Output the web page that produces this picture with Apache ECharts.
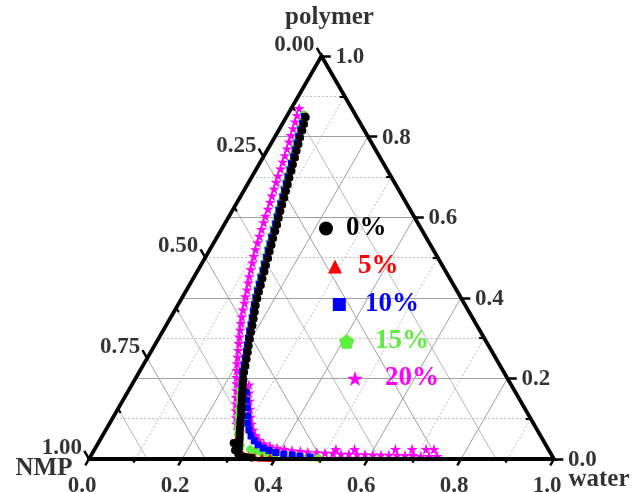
<!DOCTYPE html>
<html>
<head>
<meta charset="utf-8">
<script src="https://cdn.jsdelivr.net/npm/echarts@6/dist/echarts.min.js"></script>
<style>
  html, body { margin: 0; padding: 0; background: #ffffff; }
  #chart { width: 644px; height: 492px; }
</style>
</head>
<body>
<div id="chart"></div>
<script>
// Ternary phase diagram (NMP / water / polymer) with cloud-point curves.
// Every point is [water fraction, polymer fraction]; NMP = 1 - water - polymer.

const seriesNames = ['0%', '5%', '10%', '15%', '20%'];
const seriesColors = ['#000000', '#ff0000', '#0000ff', '#5cf03c', '#ff00ff'];

const binodal0 = [
  [0.042,0.848],[0.047,0.831],[0.051,0.815],[0.055,0.798],[0.060,0.781],[0.064,0.765],[0.069,0.748],
  [0.073,0.731],[0.078,0.715],[0.082,0.698],[0.087,0.681],[0.091,0.665],[0.096,0.648],[0.100,0.631],
  [0.104,0.615],[0.109,0.598],[0.114,0.581],[0.118,0.565],[0.122,0.548],[0.127,0.531],[0.131,0.515],
  [0.136,0.498],[0.140,0.481],[0.145,0.465],[0.149,0.448],[0.154,0.431],[0.158,0.415],[0.163,0.398],
  [0.168,0.381],[0.174,0.365],[0.180,0.348],[0.186,0.331],[0.191,0.315],[0.197,0.298],[0.203,0.281],
  [0.209,0.265],[0.215,0.248],[0.221,0.231],[0.226,0.215],[0.233,0.198],[0.236,0.190],[0.240,0.181],
  [0.244,0.173],[0.247,0.165],[0.251,0.156],[0.255,0.148],[0.259,0.139],[0.262,0.131],[0.266,0.123],
  [0.270,0.115],[0.274,0.106],[0.277,0.098],[0.280,0.091],[0.283,0.085],[0.287,0.075],[0.291,0.066],
  [0.295,0.058],[0.299,0.050],[0.302,0.043],[0.291,0.040],[0.305,0.036],[0.307,0.030],[0.310,0.024],
  [0.303,0.022],[0.313,0.018],[0.315,0.012],[0.322,0.007],[0.334,0.005],[0.347,0.004]
];

const binodal5 = [
  [0.039,0.852],[0.044,0.835],[0.048,0.819],[0.052,0.802],[0.057,0.785],[0.061,0.769],[0.066,0.752],
  [0.070,0.735],[0.075,0.719],[0.079,0.702],[0.084,0.685],[0.088,0.669],[0.093,0.652],[0.097,0.635],
  [0.101,0.619],[0.106,0.602],[0.111,0.585],[0.115,0.569],[0.119,0.552],[0.124,0.535],[0.128,0.519],
  [0.133,0.502],[0.137,0.485],[0.142,0.469],[0.146,0.452],[0.151,0.435],[0.155,0.419],[0.160,0.402],
  [0.165,0.385],[0.171,0.369],[0.177,0.352],[0.183,0.335],[0.188,0.319],[0.194,0.302],[0.200,0.285],
  [0.206,0.269],[0.212,0.252],[0.218,0.235],[0.223,0.219],[0.231,0.202],[0.238,0.185],[0.245,0.169],
  [0.253,0.152],[0.260,0.135],[0.268,0.119],[0.275,0.102],[0.281,0.089],[0.286,0.079],[0.290,0.070],
  [0.292,0.058],[0.294,0.045],[0.303,0.030],[0.316,0.017],[0.328,0.010],[0.340,0.007],[0.354,0.005],
  [0.370,0.004],[0.388,0.003]
];

const binodal10 = [
  [0.038,0.850],[0.043,0.833],[0.047,0.817],[0.051,0.800],[0.056,0.783],[0.060,0.767],[0.065,0.750],
  [0.069,0.733],[0.074,0.717],[0.078,0.700],[0.083,0.683],[0.087,0.667],[0.092,0.650],[0.096,0.633],
  [0.100,0.617],[0.105,0.600],[0.110,0.583],[0.114,0.567],[0.118,0.550],[0.123,0.533],[0.127,0.517],
  [0.132,0.500],[0.136,0.483],[0.141,0.467],[0.145,0.450],[0.150,0.433],[0.154,0.417],[0.159,0.400],
  [0.164,0.383],[0.170,0.367],[0.176,0.350],[0.182,0.333],[0.187,0.317],[0.193,0.300],[0.199,0.283],
  [0.205,0.267],[0.211,0.250],[0.217,0.233],[0.222,0.217],[0.231,0.200],[0.238,0.183],
  [0.255,0.166],[0.266,0.146],[0.277,0.127],[0.288,0.107],[0.297,0.089],[0.308,0.072],[0.320,0.057],
  [0.333,0.045],[0.346,0.035],[0.361,0.027],[0.377,0.021],[0.394,0.016],[0.413,0.012],[0.432,0.010],
  [0.450,0.007],[0.473,0.005]
];

const binodal15 = [
  [0.034,0.856],[0.039,0.839],[0.043,0.823],[0.047,0.806],[0.052,0.789],[0.056,0.773],[0.061,0.756],
  [0.065,0.739],[0.070,0.723],[0.074,0.706],[0.079,0.689],[0.083,0.673],[0.088,0.656],[0.092,0.639],
  [0.096,0.623],[0.101,0.606],[0.106,0.589],[0.110,0.573],[0.114,0.556],[0.119,0.539],[0.123,0.523],
  [0.128,0.506],[0.132,0.489],[0.137,0.473],[0.141,0.456],[0.146,0.439],[0.150,0.423],[0.155,0.406],
  [0.162,0.389],[0.168,0.373],[0.174,0.356],[0.180,0.339],[0.185,0.323],[0.191,0.306],[0.197,0.289],
  [0.203,0.273],[0.209,0.256],[0.215,0.239],[0.220,0.223],[0.227,0.206],[0.234,0.189],[0.239,0.172],
  [0.246,0.156],[0.254,0.139],[0.261,0.123],[0.268,0.106],[0.276,0.090],[0.283,0.075],[0.290,0.060],
  [0.298,0.045],[0.310,0.033],[0.334,0.025],[0.349,0.020],[0.364,0.016],[0.378,0.014],[0.394,0.011],
  [0.413,0.009],[0.433,0.007],[0.453,0.006],[0.473,0.005],[0.491,0.004]
];

const binodal20 = [
  [0.017,0.870],[0.021,0.853],[0.025,0.837],[0.029,0.820],[0.033,0.803],[0.037,0.787],[0.041,0.770],
  [0.045,0.753],[0.048,0.737],[0.052,0.720],[0.055,0.703],[0.059,0.687],[0.063,0.670],[0.067,0.653],
  [0.071,0.637],[0.075,0.620],[0.078,0.603],[0.082,0.587],[0.086,0.570],[0.090,0.553],[0.094,0.537],
  [0.098,0.520],[0.103,0.503],[0.108,0.487],[0.113,0.470],[0.118,0.453],[0.124,0.437],[0.130,0.420],
  [0.135,0.403],[0.141,0.387],[0.146,0.370],[0.152,0.353],[0.158,0.337],[0.165,0.320],[0.172,0.303],
  [0.179,0.287],[0.186,0.270],[0.193,0.253],[0.200,0.237],[0.208,0.220],[0.216,0.203],[0.224,0.187],
  [0.232,0.170],[0.240,0.153],[0.248,0.137],[0.256,0.120],[0.265,0.103],[0.274,0.087],[0.284,0.072],
  [0.252,0.184],[0.262,0.164],[0.273,0.144],[0.284,0.124],[0.295,0.104],[0.306,0.087],[0.317,0.072],
  [0.329,0.058],[0.342,0.047],[0.357,0.038],[0.373,0.032],[0.391,0.027],[0.408,0.024],[0.426,0.021],
  [0.445,0.019],[0.462,0.017],[0.482,0.016],[0.500,0.015],[0.518,0.014],[0.536,0.012],[0.553,0.012],
  [0.571,0.011],[0.588,0.011],[0.606,0.010],[0.623,0.010],[0.640,0.010],[0.658,0.009],[0.675,0.009],
  [0.692,0.009],[0.710,0.007],[0.728,0.007],[0.745,0.007],
  [0.519,0.024],[0.559,0.024],[0.647,0.024],[0.683,0.024],[0.713,0.024],[0.730,0.024]
];

// axis ticks and labels
const waterTicks = [0, 0.1, 0.2, 0.3, 0.4, 0.5, 0.6, 0.7, 0.8, 0.9, 1.0];
const polymerTicks = [0, 0.1, 0.2, 0.3, 0.4, 0.5, 0.6, 0.7, 0.8, 0.9, 1.0];
const nmpTicks = [0, 0.125, 0.25, 0.375, 0.5, 0.625, 0.75, 0.875, 1.0];
const waterLabels = [0, 0.2, 0.4, 0.6, 0.8, 1.0];
const polymerLabels = [0, 0.2, 0.4, 0.6, 0.8, 1.0];
const nmpLabels = [0, 0.25, 0.5, 0.75, 1.0];

// grid line positions
const polymerGrid = [0.1, 0.2, 0.3, 0.4, 0.5, 0.6, 0.7, 0.8, 0.9];
const waterGrid = [0.1, 0.2, 0.3, 0.4, 0.5, 0.6, 0.7, 0.8, 0.9];
const nmpGrid = [0.125, 0.25, 0.375, 0.5, 0.625, 0.75, 0.875];

const SQ3 = Math.sqrt(3) / 2;
// ternary (water, polymer) -> cartesian position in the equilateral triangle
function tern(w, p) { return [w + p / 2, p * SQ3]; }
const isEvenTenth = v => Math.round(v * 10) % 2 === 0;
const isQuarter = v => Math.round(v * 8) % 2 === 0;

const FONT = 'Liberation Serif';

// grid segments
const solidGrid = [], lightGrid = [], dottedGrid = [];
polymerGrid.forEach(c => {
  const seg = { coords: [tern(0, c), tern(1 - c, c)] };
  (isEvenTenth(c) ? solidGrid : dottedGrid).push(seg);
});
waterGrid.forEach(c => {
  const seg = { coords: [tern(c, 0), tern(c, 1 - c)] };
  (isEvenTenth(c) ? solidGrid : dottedGrid).push(seg);
});
nmpGrid.forEach(c => {
  const seg = { coords: [tern(0, 1 - c), tern(1 - c, 0)] };
  (isQuarter(c) ? solidGrid : lightGrid).push(seg);
});

// tick segments (major outward, minor shorter)
const majorTicks = [], minorTicks = [];
const LB = 0.016, LBm = 0.009, LS = 0.02, LSm = 0.011;
waterTicks.forEach(v => {
  const maj = isEvenTenth(v);
  const L = maj ? LB : LBm;
  (maj ? majorTicks : minorTicks).push({ coords: [tern(v, 0), tern(v, -L)] });
});
polymerTicks.forEach(v => {
  const maj = isEvenTenth(v);
  const end = maj ? tern(1 - v + LS, v) : tern(1 - v - LSm, v);
  (maj ? majorTicks : minorTicks).push({ coords: [tern(1 - v, v), end] });
});
nmpTicks.forEach(v => {
  const maj = isQuarter(v);
  const p = 1 - v;
  const end = maj ? tern(-LS, p + LS) : tern(LSm, p - LSm);
  (maj ? majorTicks : minorTicks).push({ coords: [tern(0, p), end] });
});

function linesSeries(data, style, z) {
  return {
    type: 'lines', coordinateSystem: 'cartesian2d', polyline: false,
    silent: true, clip: false, z: z, data: data,
    lineStyle: Object.assign({ opacity: 1 }, style), effect: { show: false }
  };
}

function labelSeries(items, labelOpts) {
  return {
    type: 'scatter', silent: true, clip: false, z: 20,
    symbolSize: 0.001, itemStyle: { color: 'rgba(0,0,0,0)' },
    data: items.map(it => ({ value: it.xy, name: it.text })),
    label: Object.assign({
      show: true, position: 'inside', formatter: p => p.name,
      color: '#000', fontFamily: FONT, fontWeight: 'bold', fontSize: 23
    }, labelOpts)
  };
}

const STAR = 'path://M50,0L61.23,34.55L97.55,34.55L68.17,55.9L79.39,90.45L50,69.1L20.61,90.45L31.83,55.9L2.45,34.55L38.77,34.55Z';
const PENTAGON = 'path://M50,0L97.55,34.55L79.39,90.45L20.61,90.45L2.45,34.55Z';

const seriesData = [binodal0, binodal5, binodal10, binodal15, binodal20];
const seriesSymbols = ['circle', 'triangle', 'rect', PENTAGON, STAR];
const seriesSizes = [8, 8.5, 7, 8.5, 11];
const seriesZ = [9, 8, 7, 6, 5];

const dataSeries = seriesData.map((pts, i) => ({
  type: 'scatter', name: seriesNames[i], silent: true, clip: false, z: seriesZ[i],
  symbol: seriesSymbols[i], symbolSize: seriesSizes[i],
  itemStyle: { color: seriesColors[i], opacity: 1 },
  data: pts.map(d => tern(d[0], d[1]))
}));

// legend placement (one legend per entry, stepped to the right)
const legendIconSize = [14, 14, 13, 15, 16];
const legendLeft = [319, 328, 332.8, 339.2, 347];
const legendTop = [215, 253, 291, 328, 365];
const legendTextGap = [8, 11, 14.2, 15.8, 17];

const legends = seriesNames.map((name, i) => ({
  data: [name], left: legendLeft[i], top: legendTop[i], padding: 0,
  itemWidth: legendIconSize[i], itemHeight: legendIconSize[i],
  selectedMode: false,
  textStyle: {
    color: seriesColors[i], fontFamily: FONT, fontWeight: 'bold', fontSize: 27,
    padding: [0, 0, 0, legendTextGap[i]]
  }
}));

const chart = echarts.init(document.getElementById('chart'), null, { renderer: 'canvas' });
chart.setOption({
  animation: false,
  backgroundColor: '#ffffff',
  grid: { left: 89, right: 90, top: 56, bottom: 33 },
  xAxis: { type: 'value', min: 0, max: 1, show: false },
  yAxis: { type: 'value', min: 0, max: SQ3, show: false },
  legend: legends,
  series: [
    linesSeries(lightGrid, { color: '#b8b8b8', width: 1, type: 'solid' }, 1),
    linesSeries(dottedGrid, { color: '#bcbcbc', width: 1, type: [2, 2] }, 1),
    linesSeries(solidGrid, { color: '#a0a0a0', width: 1, type: 'solid' }, 1),
    ...dataSeries,
    {
      type: 'line', silent: true, clip: false, z: 12, symbol: 'none',
      data: [tern(0, 0), tern(1, 0), tern(0, 1), tern(0, 0), tern(1, 0)],
      lineStyle: { color: '#000', width: 3.8, join: 'miter', cap: 'butt' }
    },
    linesSeries(majorTicks, { color: '#000', width: 2.5, type: 'solid' }, 12),
    linesSeries(minorTicks, { color: '#000', width: 2.2, type: 'solid' }, 12),
    labelSeries(waterLabels.map(v => ({ xy: tern(v, 0), text: v.toFixed(1) })),
      { align: 'center', verticalAlign: 'middle', offset: [-7, 27] }),
    labelSeries(polymerLabels.map(v => ({ xy: tern(1 - v, v), text: v.toFixed(1) })),
      { align: 'left', verticalAlign: 'middle', offset: [14, 1] }),
    labelSeries(nmpLabels.map(v => ({ xy: tern(0, 1 - v), text: v.toFixed(2) })),
      { align: 'right', verticalAlign: 'middle', offset: [-7, -11] }),
    labelSeries([{ xy: tern(0, 1), text: 'polymer' }],
      { align: 'center', verticalAlign: 'middle', offset: [8, -38], fontSize: 25 }),
    labelSeries([{ xy: tern(0, 0), text: 'NMP' }],
      { align: 'center', verticalAlign: 'middle', offset: [-45, 10], fontSize: 25 }),
    labelSeries([{ xy: tern(1, 0), text: 'water' }],
      { align: 'center', verticalAlign: 'middle', offset: [45, 21], fontSize: 25 })
  ]
});
</script>
</body>
</html>
